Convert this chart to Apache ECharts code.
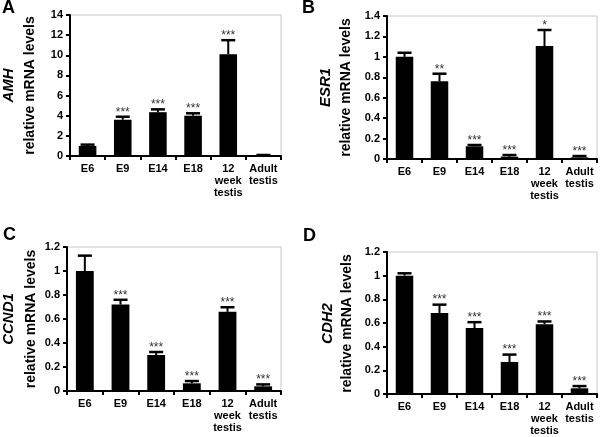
<!DOCTYPE html>
<html>
<head>
<meta charset="utf-8">
<script src="https://cdn.jsdelivr.net/npm/echarts@6/dist/echarts.min.js"></script>
<style>
html,body{margin:0;padding:0;background:#fff;}
#chart{width:600px;height:437px;}
</style>
</head>
<body>
<div id="chart"></div>
<script>
// ---- data ----
var categories = ['E6', 'E9', 'E14', 'E18', '12\nweek\ntestis', 'Adult\ntestis'];

var amhMean  = [1.0, 3.6, 4.35, 4.0, 10.1, 0.05];
var amhErr   = [0.13, 0.3, 0.28, 0.24, 1.4, 0.05];
var amhStars = ['', '***', '***', '***', '***', ''];

var esr1Mean  = [1.0, 0.76, 0.124, 0.023, 1.106, 0.016];
var esr1Err   = [0.04, 0.075, 0.013, 0.016, 0.157, 0.013];
var esr1Stars = ['', '**', '***', '***', '*', '***'];

var ccnd1Mean  = [1.0, 0.72, 0.30, 0.064, 0.66, 0.039];
var ccnd1Err   = [0.128, 0.04, 0.025, 0.019, 0.038, 0.016];
var ccnd1Stars = ['', '***', '***', '***', '***', '***'];

var cdh2Mean  = [1.0, 0.685, 0.557, 0.271, 0.59, 0.048];
var cdh2Err   = [0.02, 0.07, 0.05, 0.062, 0.023, 0.019];
var cdh2Stars = ['', '***', '***', '***', '***', '***'];

var yMax      = [14, 1.4, 1.2, 1.2];
var yInterval = [2, 0.2, 0.2, 0.2];
var geneNames = ['AMH', 'ESR1', 'CCND1', 'CDH2'];
var panelLetters = ['A', 'B', 'C', 'D'];

// ---- layout ----
var FONT = '"Liberation Sans", Arial, sans-serif';
var grids = [
  {left: 70,  top: 15,  width: 211, height: 141},
  {left: 387, top: 16,  width: 210, height: 143},
  {left: 67,  top: 247, width: 214, height: 144},
  {left: 387, top: 252, width: 210, height: 143}
];
var letterPos = [[2, 8.5], [302, 8.5], [3, 235], [303, 236.5]];
var genePos = [[9, 85.5], [326, 87.5], [9, 319], [328, 323.5]];
var relPos  = [[30, 85.5], [346, 87.5], [31, 319], [347, 323.5]];

var means = [amhMean, esr1Mean, ccnd1Mean, cdh2Mean];
var errs  = [amhErr, esr1Err, ccnd1Err, cdh2Err];
var stars = [amhStars, esr1Stars, ccnd1Stars, cdh2Stars];

var option = {
  animation: false,
  backgroundColor: '#fff',
  grid: [], xAxis: [], yAxis: [], series: [], graphic: []
};

function makeRenderItem(starList) {
  return function (params, api) {
    var x = api.value(0);
    var p0 = api.coord([x, api.value(1)]);
    var p1 = api.coord([x, api.value(2)]);
    var s = starList[params.dataIndex];
    var capW = 14;
    return {
      type: 'group',
      children: [
        {type: 'line', shape: {x1: p0[0], y1: p0[1], x2: p1[0], y2: p1[1]}, style: {stroke: '#000', lineWidth: 2}},
        {type: 'line', shape: {x1: p1[0] - capW / 2, y1: p1[1], x2: p1[0] + capW / 2, y2: p1[1]}, style: {stroke: '#000', lineWidth: 2.5}},
        {type: 'text', x: p1[0], y: p1[1] + 1.5, style: {text: s, font: '12px ' + FONT, fill: '#333', align: 'center', verticalAlign: 'bottom', textAlign: 'center', textVerticalAlign: 'bottom'}}
      ]
    };
  };
}

for (var i = 0; i < 4; i++) {
  option.grid.push(Object.assign({
    show: true, borderColor: '#c8c8c8', borderWidth: 1, backgroundColor: 'transparent', containLabel: false
  }, grids[i]));
  option.xAxis.push({
    type: 'category', gridIndex: i, data: categories,
    axisLine: {show: true, onZero: false, lineStyle: {color: '#000', width: 2}},
    axisTick: {show: true, length: 4, lineStyle: {color: '#000', width: 2}},
    axisLabel: {interval: 0, color: '#000', fontSize: 11, fontWeight: 'bold', fontFamily: FONT, lineHeight: 12, margin: 7},
    splitLine: {show: false}
  });
  option.yAxis.push({
    type: 'value', gridIndex: i, min: 0, max: yMax[i], interval: yInterval[i],
    axisLine: {show: true, lineStyle: {color: '#000', width: 2}},
    axisTick: {show: true, length: 4, lineStyle: {color: '#000', width: 2}},
    axisLabel: {color: '#000', fontSize: 11, fontWeight: 'bold', fontFamily: FONT, margin: 7},
    splitLine: {show: false}
  });
  option.series.push({
    type: 'bar', xAxisIndex: i, yAxisIndex: i, data: means[i],
    barWidth: '50%', itemStyle: {color: '#000'}, silent: true
  });
  var edata = [];
  for (var k = 0; k < categories.length; k++) {
    edata.push([k, means[i][k], means[i][k] + errs[i][k]]);
  }
  option.series.push({
    type: 'custom', xAxisIndex: i, yAxisIndex: i, data: edata, silent: true, z: 5,
    renderItem: makeRenderItem(stars[i])
  });
  option.graphic.push({
    type: 'text', x: letterPos[i][0], y: letterPos[i][1],
    style: {text: panelLetters[i], font: 'bold 18px ' + FONT, fill: '#000', align: 'left', verticalAlign: 'middle', textAlign: 'left', textVerticalAlign: 'middle'}
  });
  option.graphic.push({
    type: 'text', x: genePos[i][0], y: genePos[i][1], rotation: Math.PI / 2,
    style: {text: geneNames[i], font: 'italic bold 15px ' + FONT, fill: '#000', align: 'center', verticalAlign: 'middle', textAlign: 'center', textVerticalAlign: 'middle'}
  });
  option.graphic.push({
    type: 'text', x: relPos[i][0], y: relPos[i][1], rotation: Math.PI / 2,
    style: {text: 'relative mRNA levels', font: 'bold 14px ' + FONT, fill: '#000', align: 'center', verticalAlign: 'middle', textAlign: 'center', textVerticalAlign: 'middle'}
  });
}

var chart = echarts.init(document.getElementById('chart'), null, {renderer: 'canvas'});
chart.setOption(option);
</script>
</body>
</html>
